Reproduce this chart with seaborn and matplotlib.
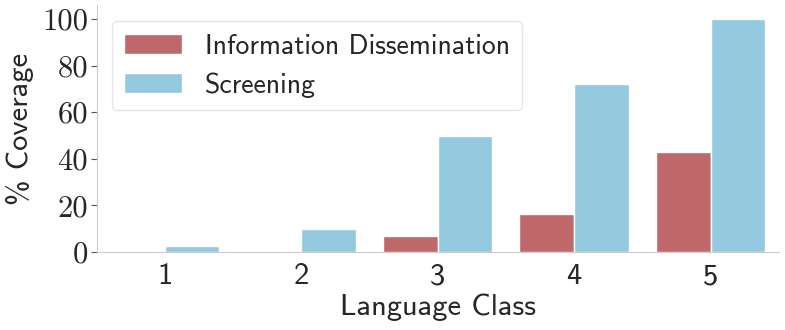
import pandas as pd
import matplotlib.pyplot as plt
import seaborn as sns

language_class = ["1", "2", "3", "4", "5"]
info_dissemination = [0, 0, 7, 16.5, 43]
screening = [2.5, 10, 50, 72, 100]

df = pd.DataFrame({
    "Language Class": language_class * 2,
    "coverage": info_dissemination + screening,
    "task": ["Information Dissemination"] * 5 + ["Screening"] * 5,
})

sns.set_style("white")
plt.rcParams["font.family"] = ["cmss10", "DejaVu Sans"]
plt.rcParams["axes.unicode_minus"] = False

palette = {"Information Dissemination": "#bf686a", "Screening": "#94c9df"}

fig = plt.figure(figsize=(7.85, 3.3), dpi=100)
ax = fig.add_axes([0.123, 0.236, 0.869, 0.749])
sns.barplot(data=df, x="Language Class", y="coverage", hue="task",
            palette=palette, saturation=1, edgecolor="white", linewidth=1, ax=ax)

ax.set_ylim(0, 106)
ax.set_yticks([0, 20, 40, 60, 80, 100])
ax.set_yticklabels([str(v) for v in [0, 20, 40, 60, 80, 100]], family="cmr10", fontsize=22)
ax.tick_params(axis="x", labelsize=22, length=0, pad=8)
ax.tick_params(axis="y", length=4, width=0.8, color="#555555", left=True, pad=2)
ax.set_xlabel("Language Class", fontsize=22, labelpad=2)
ax.set_ylabel("% Coverage", fontsize=22, labelpad=6)

sns.despine(ax=ax)
for side in ["left", "bottom"]:
    ax.spines[side].set_color("#cccccc")

ax.legend(title=None, loc="upper left", fontsize=20, frameon=True,
          bbox_to_anchor=(0.022, 0.935), borderaxespad=0, handlelength=2.1,
          borderpad=0.45, edgecolor="#e0e0e0", fancybox=True)

fig.savefig("out.png", dpi=100)
plt.close()
